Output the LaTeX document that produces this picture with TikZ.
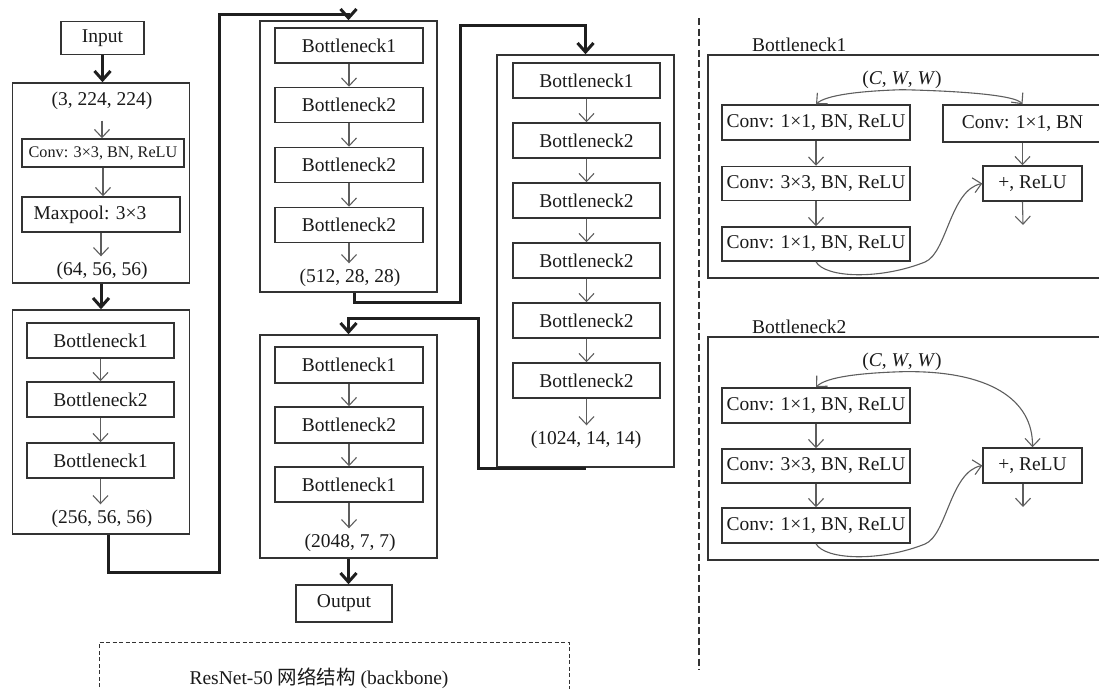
\documentclass[tikz,border=0pt]{standalone}
\usepackage{fontspec}
\setmainfont{Liberation Serif}
\newfontfamily\cjk{Noto Sans CJK SC}
\usetikzlibrary{arrows.meta,calc}
\definecolor{boxc}{HTML}{333333}
\definecolor{arrc}{HTML}{5E5E5E}
\definecolor{txtc}{HTML}{1A1A1A}
\begin{document}
\begin{tikzpicture}[x=1pt,y=-1pt,
  every node/.style={font=\fontsize{19.5}{22}\selectfont, text=txtc},
  bx/.style={draw=boxc, line width=1.5pt, rectangle, inner sep=0pt},
  outer/.style={draw=boxc, line width=1.5pt, rectangle, inner sep=0pt},
  lbl/.style={inner sep=1pt, text height=13pt, text depth=4pt},
  arr/.style={draw=arrc, line width=1.1pt, -{Straight Barb[length=8pt,width=15pt]}},
  arrlab/.style={arr, shorten >=5pt},
  thk/.style={draw=black!88, line width=3pt, -{Straight Barb[length=9pt,width=16pt]}},
  frame/.style={draw=boxc, line width=1pt, dash pattern=on 4pt off 2.5pt},
  divider/.style={draw=boxc, line width=2.6pt, dash pattern=on 7pt off 3.5pt},
]
\useasboundingbox (0,0) rectangle (1099,688);

% ---------- stem ----------
\node[bx, minimum width=83pt, minimum height=33pt] (in) at (102.5,38) {Input};
\node[outer, minimum width=177pt, minimum height=200pt] (stem) at (101,183) {};
\node[lbl] (d0) at (102,101) {(3, 224, 224)};
\node[bx, minimum width=162pt, minimum height=28pt, font=\fontsize{16.2}{19}\selectfont] (conv0) at (103,153) {Conv: 3×3, BN, ReLU};
\node[bx, minimum width=158pt, minimum height=35pt] (mp) at (101,214.5) {Maxpool: 3×3\hspace*{22pt}};
\node[lbl] (d1) at (102,271) {(64, 56, 56)};
\draw[thk] (in.south) -- (in.south |- stem.north);
\draw[arr] ([yshift=-10pt]d0.south) -- (d0.south |- conv0.north);
\draw[arr] (conv0.south) -- (conv0.south |- mp.north);
\draw[arrlab] (mp.south) -- (mp.south |- d1.north);

% ---------- stage 1 ----------
\node[outer, minimum width=177pt, minimum height=224pt] (s1) at (101,422) {};
\node[bx, minimum width=147pt, minimum height=35pt] (s1a) at (100.5,340.5) {Bottleneck1};
\node[bx, minimum width=147pt, minimum height=35pt] (s1b) at (100.5,399.5) {Bottleneck2};
\node[bx, minimum width=147pt, minimum height=35pt] (s1c) at (100.5,460.5) {Bottleneck1};
\node[lbl] (d2) at (102,519) {(256, 56, 56)};
\draw[thk] (stem.south) -- (s1.north);
\draw[arr] (s1a.south) -- (s1b.north);
\draw[arr] (s1b.south) -- (s1c.north);
\draw[arrlab] (s1c.south) -- (s1c.south |- d2.north);

% ---------- stage 2 ----------
\node[outer, minimum width=177pt, minimum height=271pt] (s2) at (348.5,156.5) {};
\node[bx, minimum width=148pt, minimum height=35pt] (s2a) at (349,45.5) {Bottleneck1};
\node[bx, minimum width=148pt, minimum height=35pt] (s2b) at (349,105) {Bottleneck2};
\node[bx, minimum width=148pt, minimum height=35pt] (s2c) at (349,165) {Bottleneck2};
\node[bx, minimum width=148pt, minimum height=35pt] (s2d) at (349,225) {Bottleneck2};
\node[lbl] (d3) at (350,278) {(512, 28, 28)};
\draw[arr] (s2a.south) -- (s2b.north);
\draw[arr] (s2b.south) -- (s2c.north);
\draw[arr] (s2c.south) -- (s2d.north);
\draw[arrlab] (s2d.south) -- (s2d.south |- d3.north);
\draw[thk] ([xshift=7pt]s1.south) -- ++(0,38) -| (219,14) -| (s2.north);

% ---------- stage 3 ----------
\node[outer, minimum width=177pt, minimum height=412pt] (s3) at (585.5,261) {};
\node[bx, minimum width=147pt, minimum height=35pt] (s3a) at (586.5,80.5) {Bottleneck1};
\node[bx, minimum width=147pt, minimum height=35pt] (s3b) at (586.5,140.5) {Bottleneck2};
\node[bx, minimum width=147pt, minimum height=35pt] (s3c) at (586.5,200.5) {Bottleneck2};
\node[bx, minimum width=147pt, minimum height=35pt] (s3d) at (586.5,260.5) {Bottleneck2};
\node[bx, minimum width=147pt, minimum height=35pt] (s3e) at (586.5,320.5) {Bottleneck2};
\node[bx, minimum width=147pt, minimum height=35pt] (s3f) at (586.5,380.5) {Bottleneck2};
\node[lbl] (d4) at (586,440) {(1024, 14, 14)};
\draw[arr] (s3a.south) -- (s3b.north);
\draw[arr] (s3b.south) -- (s3c.north);
\draw[arr] (s3c.south) -- (s3d.north);
\draw[arr] (s3d.south) -- (s3e.north);
\draw[arr] (s3e.south) -- (s3f.north);
\draw[arrlab] (s3f.south) -- (s3f.south |- d4.north);
\draw[thk] ([xshift=6pt]s2.south) -- ++(0,10) -| (460,25) -| (s3.north);

% ---------- stage 4 ----------
\node[outer, minimum width=177pt, minimum height=223pt] (s4) at (348.5,446.5) {};
\node[bx, minimum width=148pt, minimum height=36pt] (s4a) at (349,365) {Bottleneck1};
\node[bx, minimum width=148pt, minimum height=36pt] (s4b) at (349,425) {Bottleneck2};
\node[bx, minimum width=148pt, minimum height=35pt] (s4c) at (349,484.5) {Bottleneck1};
\node[lbl] (d5) at (350,543) {(2048, 7, 7)};
\node[bx, minimum width=96pt, minimum height=37pt] (out) at (344,603.5) {Output};
\draw[arr] (s4a.south) -- (s4b.north);
\draw[arr] (s4b.south) -- (s4c.north);
\draw[arrlab] (s4c.south) -- (s4c.south |- d5.north);
\draw[thk] ([yshift=-1pt]s3.south) -| (478,318) -| (s4.north);
\draw[thk] (s4.south) -- (s4.south |- out.north);

% ---------- caption ----------
\node (cap) at (319,678) {ResNet-50 {\cjk 网络结构} (backbone)};
\draw[frame] (99,700) |- (569,642) -- (569,700);

% ---------- divider ----------
\draw[divider] (699,18) -- (699,670);

% ---------- Bottleneck1 detail ----------
\node[anchor=west, inner sep=0pt] (lab1) at (752,45) {Bottleneck1};
\node[outer, minimum width=410pt, minimum height=223pt] (p1) at (913,166.5) {};
\node[lbl] (cww1) at (902,80) {(\textit{C}, \textit{W}, \textit{W})};
\node[bx, minimum width=188pt, minimum height=35pt] (r1a) at (816,122.5) {Conv: 1×1, BN, ReLU};
\node[bx, minimum width=188pt, minimum height=34pt] (r1b) at (816,183.5) {Conv: 3×3, BN, ReLU};
\node[bx, minimum width=188pt, minimum height=34pt] (r1c) at (816,244) {Conv: 1×1, BN, ReLU};
\node[bx, minimum width=159pt, minimum height=37pt] (r1s) at (1022.5,123.5) {Conv: 1×1, BN};
\node[bx, minimum width=99pt, minimum height=35pt] (r1p) at (1032.5,183.5) {+, ReLU};
\coordinate (r1o) at (1023,225);
\draw[arr] (r1a.south) -- (r1b.north);
\draw[arr] (r1b.south) -- (r1c.north);
\draw[arr] (r1s.south) -- (r1s.south |- r1p.north);
\draw[arr] (r1s.south |- r1p.south) -- (r1o);
\draw[arr] (cww1.south) .. controls (860,91) and (826,95) .. (r1a.north);
\draw[arr] (cww1.south) .. controls (960,91) and (1015,95) .. (r1s.north);
\draw[arr] (r1c.south) .. controls (825,278) and (880,280) .. (925,262)
  .. controls (947,253) and (950,190) .. (r1p.west);

% ---------- Bottleneck2 detail ----------
\node[anchor=west, inner sep=0pt] (lab2) at (752,327) {Bottleneck2};
\node[outer, minimum width=410pt, minimum height=223pt] (p2) at (913,448.5) {};
\node[lbl] (cww2) at (902,362) {(\textit{C}, \textit{W}, \textit{W})};
\node[bx, minimum width=188pt, minimum height=35pt] (r2a) at (816,405.5) {Conv: 1×1, BN, ReLU};
\node[bx, minimum width=188pt, minimum height=34pt] (r2b) at (816,466) {Conv: 3×3, BN, ReLU};
\node[bx, minimum width=188pt, minimum height=35pt] (r2c) at (816,525.5) {Conv: 1×1, BN, ReLU};
\node[bx, minimum width=99pt, minimum height=35pt] (r2p) at (1032.5,465.5) {+, ReLU};
\coordinate (r2o) at (1023,507);
\draw[arr] (r2a.south) -- (r2b.north);
\draw[arr] (r2b.south) -- (r2c.north);
\draw[arr] ([xshift=-9.5pt]r2p.south) -- (r2o);
\draw[arr] (cww2.south) .. controls (860,373) and (826,377) .. (r2a.north);
\draw[arr] (cww2.south) .. controls (990,370) and (1033,400) .. (r2p.north);
\draw[arr] (r2c.south) .. controls (825,560) and (880,562) .. (925,544)
  .. controls (947,535) and (950,472) .. (r2p.west);
\end{tikzpicture}
\end{document}
